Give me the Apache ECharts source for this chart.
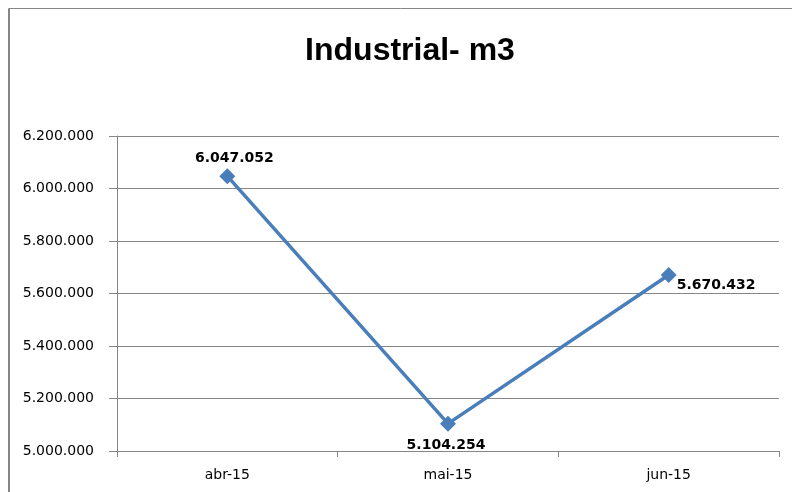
<!DOCTYPE html>
<html>
<head>
<meta charset="utf-8">
<script src="https://cdn.jsdelivr.net/npm/echarts@6/dist/echarts.min.js"></script>
<style>html,body{margin:0;padding:0;background:#fff;}#c{width:792px;height:492px;}</style>
</head>
<body>
<div id="c"></div>
<script>
var categories = ['abr-15', 'mai-15', 'jun-15'];
var values = [6047052, 5104254, 5670432];
var yTicks = [5000000, 5200000, 5400000, 5600000, 5800000, 6000000, 6200000];

function fmt(v) {
  return String(Math.round(v)).replace(/\B(?=(\d{3})+(?!\d))/g, '.');
}

var labelPos = [
  { position: 'top', offset: [7, 2] },
  { position: 'bottom', offset: [-2, 2] },
  { position: 'right', offset: [-5, 10] }
];

var chart = echarts.init(document.getElementById('c'), null, { renderer: 'canvas' });
chart.setOption({
  animation: false,
  backgroundColor: '#fff',
  title: {
    text: 'Industrial- m3',
    left: 405,
    top: 30,
    textAlign: 'center',
    textStyle: { fontFamily: 'Liberation Sans', fontWeight: 'bold', fontSize: 32, color: '#000' }
  },
  graphic: [
    { type: 'rect', shape: { x: 8.5, y: 8.5, width: 800, height: 500 }, style: { fill: 'none', stroke: '#868686', lineWidth: 1 }, silent: true },
    { type: 'line', shape: { x1: 9, y1: 9, x2: 9, y2: 492 }, style: { stroke: '#868686', lineWidth: 2 }, silent: true }
  ],
  grid: { left: 117, right: 13, top: 136, bottom: 41, containLabel: false },
  xAxis: {
    type: 'category',
    data: categories,
    boundaryGap: true,
    axisLine: { show: true, lineStyle: { color: '#868686', width: 1 } },
    axisTick: { show: true, alignWithLabel: false, length: 6, lineStyle: { color: '#868686' } },
    axisLabel: { margin: 17, fontFamily: 'DejaVu Sans', fontSize: 14, color: '#000' },
    splitLine: { show: false }
  },
  yAxis: {
    type: 'value',
    min: yTicks[0],
    max: yTicks[yTicks.length - 1],
    interval: 200000,
    axisLine: { show: true, lineStyle: { color: '#868686', width: 1 } },
    axisTick: { show: true, length: 8, lineStyle: { color: '#868686' } },
    axisLabel: { margin: 23, fontFamily: 'DejaVu Sans', fontSize: 14, color: '#000', formatter: fmt },
    splitLine: { show: true, lineStyle: { color: '#868686', width: 1 } }
  },
  series: [{
    type: 'line',
    data: values.map(function (v, i) {
      return { value: v, label: { position: labelPos[i].position, offset: labelPos[i].offset } };
    }),
    symbol: 'diamond',
    symbolSize: 16,
    lineStyle: { color: '#4A7EBB', width: 3.5 },
    itemStyle: { color: '#4A7EBB' },
    label: {
      show: true,
      fontFamily: 'DejaVu Sans',
      fontWeight: 'bold',
      fontSize: 14,
      color: '#000',
      formatter: function (p) { return fmt(p.value); }
    }
  }]
});
</script>
</body>
</html>
